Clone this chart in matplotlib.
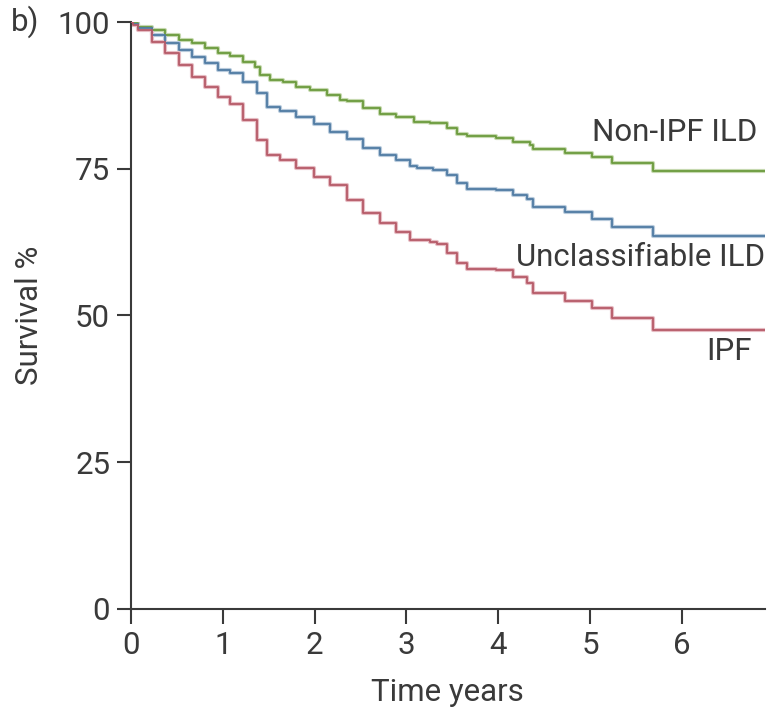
import matplotlib
matplotlib.use('Agg')
import matplotlib.pyplot as plt

plt.rcParams['font.family'] = ['Roboto', 'DejaVu Sans']

# Kaplan-Meier step points (years, survival %)
non_ipf_t = [0, 0.02, 0.08, 0.23, 0.37, 0.52, 0.66, 0.81, 0.95, 1.08, 1.22, 1.35, 1.40,
             1.51, 1.66, 1.80, 1.95, 2.13, 2.28, 2.35, 2.53, 2.71, 2.89, 3.08, 3.26,
             3.44, 3.55, 3.66, 3.98, 4.16, 4.35, 4.38, 4.73, 5.02, 5.24, 5.69, 6.9]
non_ipf_s = [100, 99.8, 99.2, 98.6, 97.8, 96.9, 96.4, 95.5, 94.7, 94.2, 93.2, 92.4, 91.0,
             90.1, 89.7, 89.0, 88.4, 87.6, 86.7, 86.6, 85.3, 84.4, 83.8, 83.0, 82.8,
             81.9, 81.0, 80.5, 80.2, 79.6, 79.0, 78.3, 77.7, 77.0, 76.0, 74.6, 74.6]

unclass_t = [0, 0.02, 0.08, 0.23, 0.37, 0.52, 0.66, 0.81, 0.95, 1.08, 1.22, 1.37, 1.48,
             1.62, 1.80, 1.99, 2.17, 2.35, 2.53, 2.71, 2.89, 3.04, 3.11, 3.29, 3.44,
             3.55, 3.66, 3.98, 4.16, 4.31, 4.38, 4.73, 5.02, 5.24, 5.69, 6.9]
unclass_s = [100, 99.6, 98.9, 97.8, 96.4, 95.2, 94.1, 93.0, 91.8, 91.3, 89.8, 87.9, 85.6,
             84.9, 83.9, 82.7, 81.3, 80.0, 78.5, 77.3, 76.5, 75.5, 75.1, 74.8, 74.0,
             72.5, 71.5, 71.4, 70.5, 69.8, 68.4, 67.6, 66.4, 65.0, 63.5, 63.5]

ipf_t = [0, 0.02, 0.08, 0.23, 0.37, 0.52, 0.66, 0.81, 0.95, 1.08, 1.22, 1.37, 1.48,
         1.62, 1.80, 1.99, 2.17, 2.35, 2.53, 2.71, 2.89, 3.04, 3.26, 3.33, 3.44,
         3.55, 3.66, 3.98, 4.16, 4.31, 4.38, 4.73, 5.02, 5.24, 5.69, 6.9]
ipf_s = [100, 99.5, 98.6, 96.6, 94.7, 92.7, 90.7, 89.0, 87.3, 86.1, 83.3, 79.9, 77.3,
         76.5, 75.1, 73.6, 72.2, 69.7, 67.4, 65.7, 64.3, 62.9, 62.6, 62.2, 60.6,
         58.9, 58.0, 57.7, 56.6, 55.5, 53.9, 52.5, 51.3, 49.6, 47.6, 47.6]

names = ['Non-IPF ILD', 'Unclassifiable ILD', 'IPF']
label_x = [6.82, 6.91, 6.76]
label_y = [81.2, 59.8, 43.8]

ink = '#3a3a3a'
fs = 22.5

fig = plt.figure(figsize=(7.69, 7.12), dpi=100)
ax = fig.add_axes([0.1703, 0.1447, 0.824, 0.8244])

curves = [(non_ipf_t, non_ipf_s, '#6b9a3c', '#c6d9b0'),
          (unclass_t, unclass_s, '#4f7ba3', '#b9cbdc'),
          (ipf_t, ipf_s, '#b65a68', '#e6bcc3')]
for t, s, col, halo in curves:
    ax.step(t, s, where='post', color=halo, lw=3.0, zorder=2)
    ax.step(t, s, where='post', color=col, lw=1.3, zorder=3)

for name, x, y in zip(names, label_x, label_y):
    ax.text(x, y, name, ha='right', va='center', fontsize=fs, color=ink)

ax.set_xlim(0, 6.9)
ax.set_ylim(0, 100)
ax.set_xticks(range(7))
ax.set_yticks([0, 25, 50, 75, 100])
for side in ['top', 'right']:
    ax.spines[side].set_visible(False)
for side in ['left', 'bottom']:
    ax.spines[side].set_color(ink)
    ax.spines[side].set_linewidth(1.5)
ax.tick_params(axis='x', direction='out', length=11, width=1.5, color=ink,
               labelsize=fs, labelcolor=ink, pad=5)
ax.tick_params(axis='y', direction='out', length=10, width=1.5, color=ink,
               labelsize=fs, labelcolor=ink, pad=5)

ax.set_xlabel('Time years', fontsize=fs, color=ink, labelpad=13)
ax.set_ylabel('Survival %', fontsize=fs, color=ink, labelpad=10)

fig.text(0.014, 0.969, 'b)', fontsize=fs, color=ink, va='center')

fig.savefig('out.png', dpi=100)
